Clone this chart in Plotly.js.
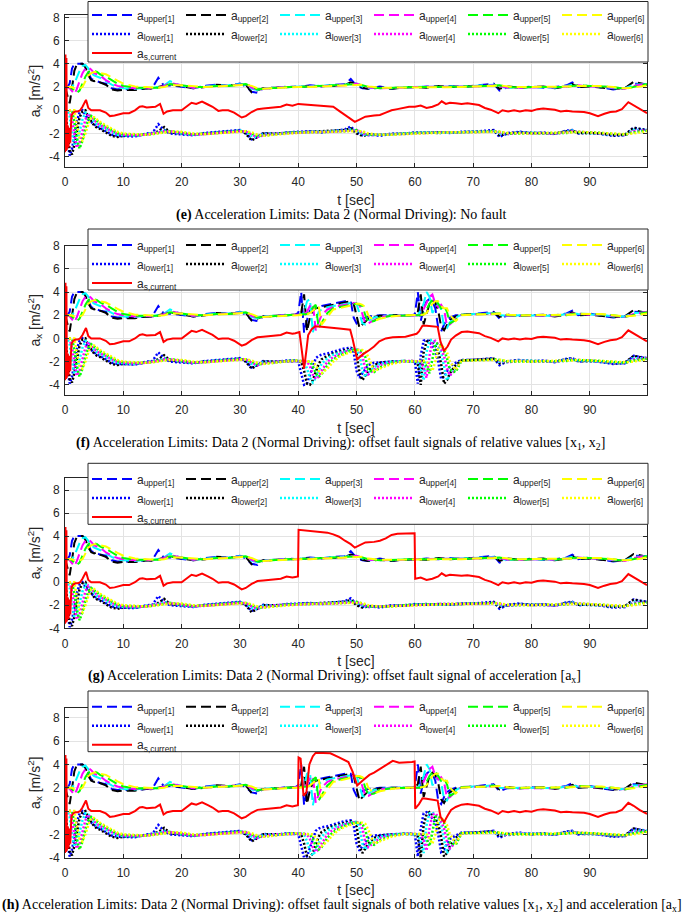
<!DOCTYPE html>
<html>
<head>
<meta charset="utf-8">
<script src="https://cdn.plot.ly/plotly-3.0.1.min.js"></script>
<style>
  html, body { margin: 0; padding: 0; background: #fff; }
  #plot { width: 685px; height: 914px; }
</style>
</head>
<body>
<div id="plot"></div>
<script>
// time grid of the limit curves (sec)
var tLim = [0, 0.4, 0.8, 1.2, 1.6, 2, 2.5, 3, 3.5, 4, 4.5, 5, 5.5, 6, 7, 8, 9, 10,
  12, 14, 15, 16, 17, 18, 20, 22, 24, 26, 28, 30, 31, 32, 33, 34, 36, 38, 40, 42, 44, 46, 48, 49,
  50, 51, 52, 54, 56, 58, 60, 62, 64, 66, 68, 70, 72, 73.5, 74.5, 76, 78, 80, 82, 84, 86, 87, 88, 90,
  92, 94, 96, 97.5, 99.8];

// upper limits, no fault
var upper1 = [2.0, 2.0, 2.3, 3.6, 4.0, 4.0, 4.0, 4.0, 3.8, 3.2, 2.7, 2.6, 2.5, 2.4, 2.3, 1.9, 1.8, 1.8,
  1.8, 1.9, 1.95, 2.8, 2.1, 2.15, 2.0, 1.9, 2.1, 2.2, 2.1, 2.3, 2.05, 1.6, 1.5, 1.9, 1.9, 2.05, 2.0, 2.15, 2.05, 2.2, 2.25, 2.7,
  2.1, 1.9, 1.85, 2.05, 1.85, 2.0, 1.95, 2.05, 2.0, 2.1, 2.0, 2.1, 2.2, 2.3, 1.7, 2.0, 1.95, 2.05, 1.95, 2.0, 2.15, 2.4, 2.0, 2.15,
  1.95, 1.8, 1.9, 2.3, 2.25];
var upper2 = [2.0, 1.4, 0.6, 1.9, 3.4, 3.9, 4.0, 4.0, 3.7, 3.0, 2.6, 2.5, 2.6, 2.4, 2.2, 1.8, 1.7, 1.75,
  1.75, 1.9, 1.85, 2.0, 2.15, 2.25, 2.05, 1.9, 2.0, 2.2, 2.15, 2.2, 2.2, 1.55, 1.7, 1.9, 1.95, 2.0, 2.05, 2.05, 2.1, 2.1, 2.2, 2.4,
  2.25, 1.95, 1.85, 1.95, 1.85, 1.95, 2.0, 1.95, 2.1, 2.0, 2.05, 2.1, 2.1, 2.25, 1.85, 2.05, 1.95, 2.0, 2.05, 1.9, 2.05, 2.25, 2.0, 2.05,
  1.95, 1.85, 1.9, 2.45, 2.2];
var upper3 = [2.0, 2.0, 2.0, 2.0, 2.3, 2.8, 3.4, 3.8, 3.9, 3.6, 3.2, 3.0, 2.9, 2.8, 2.5, 2.2, 2.0, 1.9,
  1.85, 1.95, 1.9, 2.0, 2.15, 2.5, 2.1, 1.95, 2.05, 2.15, 2.15, 2.25, 2.2, 1.85, 1.75, 1.9, 1.95, 2.0, 2.05, 2.1, 2.1, 2.15, 2.2, 2.3,
  2.3, 2.05, 1.9, 1.95, 1.9, 2.0, 2.0, 2.0, 2.05, 2.05, 2.05, 2.1, 2.15, 2.2, 2.0, 1.95, 2.0, 2.0, 2.0, 1.95, 2.1, 2.2, 2.1, 2.1,
  2.05, 1.9, 1.9, 2.2, 2.25];
var upper4 = [2.0, 2.0, 1.9, 1.6, 1.4, 1.8, 2.6, 3.2, 3.6, 3.7, 3.5, 3.2, 3.1, 3.0, 2.6, 2.3, 2.1, 2.0,
  1.9, 1.95, 1.9, 1.95, 2.1, 2.35, 2.15, 1.95, 2.0, 2.1, 2.15, 2.2, 2.25, 1.95, 1.75, 1.85, 1.95, 2.0, 2.0, 2.05, 2.1, 2.1, 2.15, 2.25,
  2.3, 2.1, 1.95, 1.9, 1.9, 1.95, 2.0, 2.0, 2.0, 2.05, 2.05, 2.05, 2.1, 2.15, 2.1, 1.95, 1.95, 2.0, 2.0, 1.95, 2.05, 2.15, 2.15, 2.05,
  2.05, 1.95, 1.85, 2.1, 2.3];
var upper5 = [2.0, 2.0, 2.0, 1.9, 1.7, 1.5, 1.7, 2.3, 2.9, 3.3, 3.4, 3.4, 3.3, 3.1, 2.9, 2.6, 2.3, 2.1,
  1.95, 1.95, 1.95, 1.95, 2.05, 2.25, 2.15, 2.0, 2.0, 2.1, 2.1, 2.2, 2.25, 2.05, 1.8, 1.85, 1.95, 2.0, 2.0, 2.05, 2.05, 2.1, 2.15, 2.2,
  2.25, 2.15, 2.0, 1.9, 1.95, 1.95, 2.0, 2.0, 2.0, 2.0, 2.05, 2.05, 2.1, 2.15, 2.15, 2.0, 1.95, 2.0, 2.0, 2.0, 2.0, 2.1, 2.15, 2.1,
  2.05, 2.0, 1.85, 2.0, 2.25];
var upper6 = [2.0, 2.0, 2.0, 2.0, 1.9, 1.9, 1.9, 2.0, 2.5, 3.0, 3.2, 3.3, 3.3, 3.2, 3.1, 2.8, 2.55, 2.3,
  2.05, 2.0, 1.95, 1.95, 2.0, 2.15, 2.15, 2.05, 2.0, 2.05, 2.1, 2.15, 2.2, 2.1, 1.9, 1.85, 1.9, 2.0, 2.0, 2.0, 2.05, 2.1, 2.1, 2.15,
  2.2, 2.2, 2.05, 1.95, 1.95, 1.95, 2.0, 2.0, 2.0, 2.0, 2.0, 2.05, 2.05, 2.1, 2.15, 2.05, 2.0, 2.0, 2.0, 2.0, 2.0, 2.05, 2.1, 2.1,
  2.1, 2.0, 1.9, 1.95, 2.15];

// lower limits, no fault
var lower1 = [0, -2.5, -3.9, -3.3, -2.2, -1.0, -0.2, 0, -0.4, -0.8, -1.0, -1.2, -1.4, -1.5, -1.8, -2.1, -2.2, -2.2,
  -2.25, -2.0, -1.95, -1.2, -1.7, -2.0, -2.05, -2.15, -1.95, -1.85, -1.8, -1.7, -1.95, -2.5, -2.3, -1.95, -2.05, -1.9, -1.85, -1.8, -1.9, -1.75, -1.65, -1.4,
  -1.9, -2.15, -2.05, -2.2, -2.0, -2.05, -1.9, -1.95, -1.9, -1.95, -1.85, -1.85, -1.8, -1.7, -2.3, -1.95, -1.85, -2.0, -1.9, -2.05, -1.75, -1.7, -2.0, -1.9,
  -2.05, -2.2, -2.15, -1.5, -1.7];
var lower2 = [0, -1.5, -3.5, -3.8, -3.0, -1.8, -0.6, -0.1, 0, -0.6, -1.0, -1.3, -1.5, -1.6, -1.9, -2.2, -2.3, -2.2,
  -2.2, -2.1, -2.0, -1.8, -1.45, -1.9, -2.0, -2.1, -2.0, -1.9, -1.85, -1.75, -2.0, -2.6, -2.3, -2.0, -2.0, -1.95, -1.9, -1.85, -1.85, -1.8, -1.7, -1.55,
  -2.0, -2.2, -2.1, -2.1, -2.05, -2.0, -1.95, -1.9, -1.95, -1.9, -1.9, -1.85, -1.85, -1.75, -2.15, -2.0, -1.9, -1.95, -1.95, -2.0, -1.8, -1.75, -1.95, -2.0,
  -2.0, -2.15, -2.1, -1.5, -1.75];
var lower3 = [0, 0, -0.5, -2.0, -3.0, -2.8, -1.8, -0.8, -0.2, -0.3, -0.7, -1.0, -1.2, -1.35, -1.6, -1.9, -2.1, -2.15,
  -2.2, -2.05, -2.0, -1.9, -1.75, -1.8, -2.0, -2.1, -2.0, -1.9, -1.85, -1.75, -1.85, -2.2, -2.35, -2.05, -2.0, -1.95, -1.9, -1.85, -1.85, -1.8, -1.75, -1.65,
  -1.75, -2.05, -2.15, -2.1, -2.05, -2.0, -1.95, -1.9, -1.95, -1.9, -1.9, -1.85, -1.85, -1.8, -2.0, -2.05, -1.9, -1.95, -1.95, -2.0, -1.85, -1.75, -1.9, -1.95,
  -2.0, -2.1, -2.15, -1.7, -1.7];
var lower4 = [0, 0, 0, -0.8, -2.2, -3.2, -2.8, -1.8, -0.8, -0.3, -0.6, -0.9, -1.1, -1.3, -1.5, -1.8, -2.0, -2.1,
  -2.15, -2.1, -2.0, -1.95, -1.8, -1.8, -1.95, -2.1, -2.05, -1.95, -1.85, -1.8, -1.8, -2.1, -2.3, -2.15, -2.0, -1.95, -1.9, -1.9, -1.85, -1.85, -1.75, -1.7,
  -1.7, -1.95, -2.15, -2.1, -2.05, -2.0, -1.95, -1.95, -1.9, -1.9, -1.9, -1.85, -1.85, -1.8, -1.9, -2.05, -1.95, -1.95, -1.95, -2.0, -1.9, -1.8, -1.85, -1.95,
  -2.0, -2.05, -2.15, -1.8, -1.7];
var lower5 = [0, 0, 0, 0, -1.0, -2.4, -3.3, -2.6, -1.6, -0.8, -0.5, -0.7, -0.9, -1.1, -1.4, -1.7, -1.95, -2.05,
  -2.1, -2.1, -2.05, -1.95, -1.85, -1.8, -1.9, -2.05, -2.05, -1.95, -1.9, -1.8, -1.8, -2.0, -2.2, -2.2, -2.05, -1.95, -1.9, -1.9, -1.85, -1.85, -1.8, -1.75,
  -1.7, -1.85, -2.1, -2.1, -2.1, -2.0, -1.95, -1.95, -1.9, -1.9, -1.9, -1.9, -1.85, -1.8, -1.85, -2.0, -2.0, -1.95, -1.95, -1.95, -1.95, -1.85, -1.85, -1.9,
  -1.95, -2.0, -2.1, -1.9, -1.75];
var lower6 = [0, 0, 0, 0, 0, -1.2, -2.4, -2.6, -2.0, -1.2, -0.6, -0.6, -0.8, -1.0, -1.3, -1.6, -1.85, -2.0,
  -2.05, -2.1, -2.05, -2.0, -1.9, -1.85, -1.85, -2.0, -2.05, -2.0, -1.9, -1.85, -1.8, -1.9, -2.1, -2.2, -2.1, -2.0, -1.95, -1.9, -1.9, -1.85, -1.8, -1.8,
  -1.75, -1.8, -2.0, -2.1, -2.1, -2.05, -2.0, -1.95, -1.95, -1.9, -1.9, -1.9, -1.85, -1.85, -1.85, -1.95, -2.0, -2.0, -1.95, -1.95, -1.95, -1.9, -1.85, -1.9,
  -1.95, -1.95, -2.05, -2.0, -1.8];

// fault window of the limit curves (panels f and h)
var tWin = [39.5, 40, 40.5, 41, 41.5, 42, 42.5, 43, 43.5, 44, 45, 46, 47, 48, 49, 49.5, 50, 50.5, 51, 51.5,
  52, 53, 54, 56, 58, 59.5, 60, 60.5, 61, 61.5, 62, 62.5, 63, 63.5, 64, 64.5, 65, 65.5, 66, 67];
var upperF1 = [2.05, 2.2, 4.0, 0.5, 1.6, 2.4, 2.5, 2.6, 2.7, 2.8, 2.9, 3.0, 3.1, 3.2, 3.2, 1.8, 1.3, 1.5, 1.7, 1.8,
  1.9, 1.95, 2.0, 2.0, 2.0, 2.0, 2.1, 4.0, 1.5, 2.6, 3.2, 3.4, 3.2, 2.6, 0.9, 0.6, 1.2, 1.6, 1.8, 2.0];
var upperF2 = [2.05, 2.05, 2.2, 3.8, 0.6, 1.8, 2.4, 2.6, 2.65, 2.7, 2.8, 2.9, 3.0, 3.1, 3.2, 3.0, 1.8, 0.9, 1.2, 1.5,
  1.7, 1.85, 1.95, 2.0, 2.0, 2.0, 2.0, 2.3, 3.8, 1.2, 2.2, 3.0, 3.3, 3.1, 2.4, 1.0, 0.7, 1.2, 1.6, 1.9];
var upperF3 = [2.05, 2.05, 2.05, 2.2, 3.2, 3.4, 0.5, 1.6, 2.3, 2.5, 2.7, 2.8, 2.9, 3.0, 3.1, 3.1, 3.0, 2.2, 1.3, 1.2,
  1.5, 1.8, 1.9, 2.0, 2.0, 2.0, 2.0, 2.0, 2.4, 3.0, 4.0, 3.6, 2.2, 2.6, 3.0, 2.5, 1.0, 0.9, 1.4, 1.8];
var upperF4 = [2.05, 2.05, 2.05, 2.05, 2.3, 2.8, 3.0, 0.7, 1.4, 2.0, 2.5, 2.7, 2.8, 2.9, 3.0, 3.05, 3.0, 2.9, 2.1, 1.3,
  1.3, 1.6, 1.85, 1.95, 2.0, 2.0, 2.0, 2.0, 2.0, 2.5, 3.0, 3.6, 3.8, 3.0, 2.7, 2.9, 2.5, 1.1, 1.2, 1.7];
var upperF5 = [2.05, 2.05, 2.05, 2.05, 2.1, 2.4, 2.7, 2.9, 0.9, 1.3, 2.2, 2.6, 2.7, 2.8, 2.9, 3.0, 3.0, 2.9, 2.8, 2.0,
  1.4, 1.5, 1.8, 1.95, 2.0, 2.0, 2.0, 2.0, 2.0, 2.1, 2.5, 3.0, 3.3, 3.4, 3.0, 2.6, 2.8, 2.3, 1.3, 1.6];
var upperF6 = [2.05, 2.05, 2.05, 2.05, 2.05, 2.2, 2.4, 2.6, 2.8, 1.2, 1.9, 2.5, 2.6, 2.7, 2.8, 2.9, 3.0, 3.0, 2.9, 2.7,
  2.0, 1.5, 1.7, 1.9, 2.0, 2.0, 2.0, 2.0, 2.0, 2.05, 2.2, 2.6, 3.0, 3.2, 3.2, 2.8, 2.6, 2.6, 2.0, 1.5];
var lowerF1 = [-1.9, -2.0, -3.0, -4.0, -3.9, -3.1, -2.3, -1.7, -1.5, -1.4, -1.3, -1.15, -1.0, -0.85, -0.8, -1.2, -2.8, -3.4, -3.0, -2.6,
  -2.3, -2.1, -2.05, -2.0, -1.95, -1.95, -2.0, -3.9, -1.5, -0.2, -0.1, -0.3, -0.6, -1.0, -2.0, -3.5, -3.3, -2.8, -2.4, -2.1];
var lowerF2 = [-1.9, -1.95, -2.0, -2.8, -3.9, -4.0, -3.6, -2.8, -2.2, -1.8, -1.5, -1.3, -1.15, -1.0, -0.9, -0.9, -1.3, -3.0, -3.6, -3.2,
  -2.8, -2.3, -2.1, -2.0, -1.95, -1.95, -2.0, -2.2, -4.0, -1.2, -0.3, -0.1, -0.3, -0.6, -1.1, -2.2, -3.9, -3.6, -3.0, -2.3];
var lowerF3 = [-1.9, -1.95, -1.95, -2.0, -2.6, -3.4, -3.8, -3.4, -2.8, -2.2, -1.7, -1.4, -1.25, -1.1, -0.95, -0.9, -0.95, -1.4, -2.8, -3.3,
  -3.0, -2.5, -2.2, -2.0, -1.95, -1.95, -1.95, -2.0, -2.6, -3.6, -1.2, -0.2, -0.1, -0.4, -0.7, -1.2, -2.4, -3.6, -3.2, -2.5];
var lowerF4 = [-1.9, -1.95, -1.95, -1.95, -2.0, -2.4, -3.1, -3.5, -3.3, -2.8, -2.0, -1.6, -1.35, -1.15, -1.0, -0.95, -0.95, -1.0, -1.5, -2.7,
  -3.1, -2.7, -2.3, -2.05, -1.95, -1.95, -1.95, -1.95, -2.0, -2.5, -3.4, -1.5, -0.3, -0.2, -0.5, -0.9, -1.5, -2.6, -3.2, -2.7];
var lowerF5 = [-1.9, -1.95, -1.95, -1.95, -1.95, -2.0, -2.4, -3.0, -3.3, -3.1, -2.3, -1.8, -1.5, -1.25, -1.05, -1.0, -1.0, -1.0, -1.1, -1.6,
  -2.7, -2.9, -2.5, -2.1, -1.95, -1.95, -1.95, -1.95, -1.95, -2.0, -2.4, -3.0, -1.8, -0.5, -0.4, -0.6, -1.0, -1.7, -2.7, -2.9];
var lowerF6 = [-1.9, -1.95, -1.95, -1.95, -1.95, -1.95, -2.0, -2.3, -2.8, -3.0, -2.6, -2.0, -1.6, -1.35, -1.15, -1.05, -1.0, -1.0, -1.0, -1.1,
  -1.6, -2.8, -2.6, -2.2, -2.0, -1.95, -1.95, -1.95, -1.95, -1.95, -2.0, -2.3, -2.8, -2.0, -0.8, -0.6, -0.8, -1.2, -2.0, -2.7];

// current acceleration, no fault
var tCur = [0, 0.08, 0.16, 0.24, 0.32, 0.45, 0.6, 0.75, 0.9, 1.1, 1.4, 1.8, 2.2, 2.6, 3.0, 3.3, 3.6, 4.0, 4.5, 5,
  6, 7, 7.7, 8.5, 9.3, 10, 11, 12, 12.8, 13.3, 14, 15, 15.5, 16.3, 16.9, 17.5, 18.5, 20, 21, 21.7,
  22.5, 23.5, 24.5, 25.3, 26.3, 27, 28, 29, 30.3, 31, 32, 33, 34, 35, 36, 37, 38, 39, 40, 41,
  42, 43, 44, 45, 46, 47, 48, 49, 49.7, 50.5, 51.5, 53, 54, 55, 56, 57, 58, 59, 60, 61,
  62, 63, 64, 64.6, 65.3, 66, 67, 68, 69, 70, 71, 72, 73, 74.3, 75, 76, 77, 78, 79, 80,
  81, 82, 83, 84, 85, 86, 87, 88, 89, 90, 91.4, 92.5, 93.5, 94.5, 95.5, 96.6, 97.5, 98.5, 99.8];
var cur = [-3.6, 4.8, -3.5, 4.5, -3.4, -1.3, -3.2, -1.5, -2.8, -0.5, -0.2, -0.1, -0.1, 0.0, 0.3, 0.6, 0.9, 0.2, 0.0, 0.0,
  0.0, -0.2, -0.5, -0.45, -0.35, -0.25, -0.25, 0.0, 0.3, 0.35, 0.25, 0.3, 0.3, 0.55, -0.3, -0.1, 0.0, 0.0, 0.35, 0.65,
  0.55, 0.75, 0.5, 0.3, -0.05, 0.0, 0.0, -0.2, -0.62, -0.5, -0.15, 0.1, 0.15, 0.2, 0.25, 0.3, 0.5, 0.4, 0.55, 0.5,
  0.45, 0.45, 0.4, 0.35, 0.3, -0.05, -0.4, -0.75, -1.0, -0.8, -0.55, -0.45, -0.4, -0.2, 0.0, 0.1, 0.2, 0.3, 0.3, 0.4,
  0.2, 0.3, 0.5, 0.77, 0.55, 0.65, 0.6, 0.55, 0.6, 0.55, 0.45, 0.2, 0.05, -0.25, 0.0, -0.1, 0.0, -0.1, 0.0, -0.05,
  0.1, 0.15, 0.1, 0.05, -0.1, -0.05, -0.1, -0.1, -0.15, -0.25, -0.5, -0.3, -0.15, -0.1, 0.1, 0.7, 0.45, 0.1, -0.25];

// current acceleration inside the fault windows
var tCurF = [39.5, 40.2, 40.6, 41.0, 41.4, 41.7, 42.3, 42.9, 44, 45.5, 47, 48.9, 49.3, 50.1, 51, 52.2, 53, 53.9, 55, 56.2,
  57.3, 58.4, 59.5, 60.3, 60.7, 61.3, 62, 63, 63.9, 64.4, 65.0, 65.6, 66.2, 67, 67.5];
var curF = [0.45, 0.55, -1.0, -2.6, -1.0, 0.3, 0.8, 1.05, 1.0, 0.95, 0.85, 0.75, 0.0, -1.8, -1.4, -1.0, -0.7, -0.25, 0.0, 0.1,
  0.1, 0.15, 0.3, 0.4, 0.6, 1.1, 1.1, 1.05, 1.0, -0.3, -1.05, -0.7, -0.1, 0.25, 0.4];
var tCurG = [39.5, 39.95, 40.05, 41, 42, 43, 44, 45, 46, 47, 48, 49, 49.7, 50.5, 51.5, 53, 54, 55, 56, 57,
  58, 59, 59.95, 60.05, 61, 62, 63, 64, 64.6, 65.3, 66, 67, 67.5];
var curG = [0.45, 0.5, 4.55, 4.5, 4.45, 4.4, 4.35, 4.3, 4.15, 3.95, 3.6, 3.3, 3.0, 3.2, 3.45, 3.5, 3.6, 3.8, 4.1, 4.2,
  4.2, 4.25, 4.25, 0.3, 0.4, 0.2, 0.3, 0.5, 0.77, 0.55, 0.65, 0.6, 0.55];
var tCurH = [39.5, 39.95, 40.05, 40.4, 40.9, 41.4, 41.9, 42.5, 43, 44, 45.5, 47, 48.6, 49.3, 50.1, 51, 52.2, 53, 53.9, 55,
  56.2, 57.3, 58.4, 59.5, 59.95, 60.05, 60.7, 61.3, 62, 63, 63.9, 64.4, 65.0, 65.6, 66.2, 67, 67.5];
var curH = [0.45, 0.5, 4.6, 4.5, 1.3, 1.6, 4.0, 4.7, 5.0, 5.0, 4.95, 4.6, 4.2, 3.4, 2.2, 2.6, 3.1, 3.3, 3.6, 3.9,
  4.3, 4.15, 4.15, 4.2, 4.25, 0.2, 0.6, 1.1, 1.05, 1.0, 0.9, -0.5, -0.95, -0.4, 0.1, 0.35, 0.45];

var captions = [
  '<b>(e)</b> Acceleration Limits: Data 2 (Normal Driving): No fault',
  '<b>(f)</b> Acceleration Limits: Data 2 (Normal Driving): offset fault signals of relative values [x<sub>1</sub>, x<sub>2</sub>]',
  '<b>(g)</b> Acceleration Limits: Data 2 (Normal Driving): offset fault signal of acceleration [a<sub>x</sub>]',
  '<b>(h)</b> Acceleration Limits: Data 2 (Normal Driving): offset fault signals of both relative values [x<sub>1</sub>, x<sub>2</sub>] and acceleration [a<sub>x</sub>]'
];

var colors = ['#0000ff', '#000000', '#00ffff', '#ff00ff', '#00ff00', '#ffff00'];
var upN = [upper1, upper2, upper3, upper4, upper5, upper6];
var loN = [lower1, lower2, lower3, lower4, lower5, lower6];
var upF = [upperF1, upperF2, upperF3, upperF4, upperF5, upperF6];
var loF = [lowerF1, lowerF2, lowerF3, lowerF4, lowerF5, lowerF6];

// replace the part of a base curve covered by a window
function splice(tb, vb, tw, vw) {
  var lo = tw[0], hi = tw[tw.length - 1], x = [], y = [], i;
  for (i = 0; i < tb.length; i++) if (tb[i] < lo) { x.push(tb[i]); y.push(vb[i]); }
  x = x.concat(tw); y = y.concat(vw);
  for (i = 0; i < tb.length; i++) if (tb[i] > hi) { x.push(tb[i]); y.push(vb[i]); }
  return {x: x, y: y};
}

var sans = 'Liberation Sans, Arial, sans-serif';
var serif = 'Liberation Serif, Times New Roman, serif';
var ink = '#262626';

// pixel geometry of each panel: plot top/bottom, legend box, first legend row, caption centre, y range
var panels = [
  {top: 15, bottom: 167, box: [1.5, 62], row: 15, cap: 215, capx: 341, yr: [-4.88, 8.2], fault: false, red: null},
  {top: 245.7, bottom: 395, box: [229, 290], row: 245, cap: 443, capx: 340, yr: [-4.88, 8.0], fault: true, red: [tCurF, curF]},
  {top: 477.7, bottom: 628.3, box: [463.3, 524.3], row: 479, cap: 676, capx: 334, yr: [-4.0, 9.07], fault: false, red: [tCurG, curG]},
  {top: 707.7, bottom: 857.7, box: [691, 751.7], row: 706.7, cap: 905, capx: 342, yr: [-4.0, 8.86], fault: true, red: [tCurH, curH]}
];

var H = 914, L = 65, R = 38, W = 685 - L - R;
var data = [];
var layout = {
  width: 685, height: 914,
  margin: {l: L, r: R, t: 0, b: 0, autoexpand: false},
  paper_bgcolor: '#ffffff', plot_bgcolor: '#ffffff',
  showlegend: true,
  annotations: [],
  shapes: []
};

panels.forEach(function(p, i) {
  var n = i === 0 ? '' : String(i + 1);
  var xa = 'x' + n, ya = 'y' + n, lg = 'legend' + n;
  var k, s;
  for (k = 0; k < 6; k++) {
    s = p.fault ? splice(tLim, upN[k], tWin, upF[k]) : {x: tLim, y: upN[k]};
    data.push({x: s.x, y: s.y, type: 'scatter', mode: 'lines', xaxis: xa, yaxis: ya, legend: lg,
      name: 'a<sub>upper[' + (k + 1) + ']</sub>', line: {color: colors[k], width: 2, dash: '10px,5px'}});
  }
  for (k = 0; k < 6; k++) {
    s = p.fault ? splice(tLim, loN[k], tWin, loF[k]) : {x: tLim, y: loN[k]};
    data.push({x: s.x, y: s.y, type: 'scatter', mode: 'lines', xaxis: xa, yaxis: ya, legend: lg,
      name: 'a<sub>lower[' + (k + 1) + ']</sub>', line: {color: colors[k], width: 2.5, dash: '2px,2px'}});
  }
  s = p.red ? splice(tCur, cur, p.red[0], p.red[1]) : {x: tCur, y: cur};
  data.push({x: s.x, y: s.y, type: 'scatter', mode: 'lines', xaxis: xa, yaxis: ya, legend: lg,
    name: 'a<sub>s,current</sub>', line: {color: '#ff0000', width: 2}});

  layout['xaxis' + n] = {
    anchor: ya, domain: [0, 1], range: [0, 99.8],
    tickvals: [0, 10, 20, 30, 40, 50, 60, 70, 80, 90],
    ticks: 'inside', ticklen: 4, tickcolor: ink, ticklabelstandoff: 4,
    showline: true, linecolor: ink, linewidth: 1, mirror: 'ticks',
    showgrid: true, gridcolor: '#e3e3e3', zeroline: false,
    tickfont: {family: sans, size: 12, color: ink},
    title: {text: 't [sec]', font: {family: sans, size: 14, color: ink}, standoff: 6}
  };
  layout['yaxis' + n] = {
    anchor: xa, domain: [1 - p.bottom / H, 1 - p.top / H], range: p.yr,
    tickvals: [-4, -2, 0, 2, 4, 6, 8], ticktext: ['-4', '-2', '0', '2', '4', '6', '8'],
    ticks: 'inside', ticklen: 4, tickcolor: ink, ticklabelstandoff: 2,
    showline: true, linecolor: ink, linewidth: 1, mirror: 'ticks',
    showgrid: true, gridcolor: '#e3e3e3', zeroline: false,
    tickfont: {family: sans, size: 12, color: ink},
    title: {text: 'a<sub>x</sub> [m/s<sup>2</sup>]', font: {family: sans, size: 14, color: ink}, standoff: 5}
  };
  // white legend box drawn over the curves; the legend itself is transparent on top of it
  layout.shapes.push({
    type: 'rect', xref: 'paper', yref: 'paper', layer: 'above',
    x0: (88 - L) / W, x1: (648 - L) / W, y0: 1 - p.box[1] / H, y1: 1 - p.box[0] / H,
    fillcolor: '#ffffff', line: {color: ink, width: 1}
  });
  layout[lg] = {
    x: (87 - L) / W, y: 1 - (p.row - 14.5) / H, xanchor: 'left', yanchor: 'top', xref: 'paper', yref: 'paper',
    orientation: 'h', bgcolor: 'rgba(0,0,0,0)', borderwidth: 0,
    font: {family: sans, size: 12, color: ink},
    itemwidth: 40, entrywidth: 39, entrywidthmode: 'pixels', traceorder: 'normal'
  };
  layout.annotations.push({
    xref: 'paper', yref: 'paper', x: (p.capx - L) / W, y: 1 - p.cap / H,
    xanchor: 'center', yanchor: 'middle', showarrow: false,
    text: captions[i], font: {family: serif, size: 14, color: '#000000'}
  });
});

Plotly.newPlot('plot', data, layout, {staticPlot: true});
</script>
</body>
</html>
